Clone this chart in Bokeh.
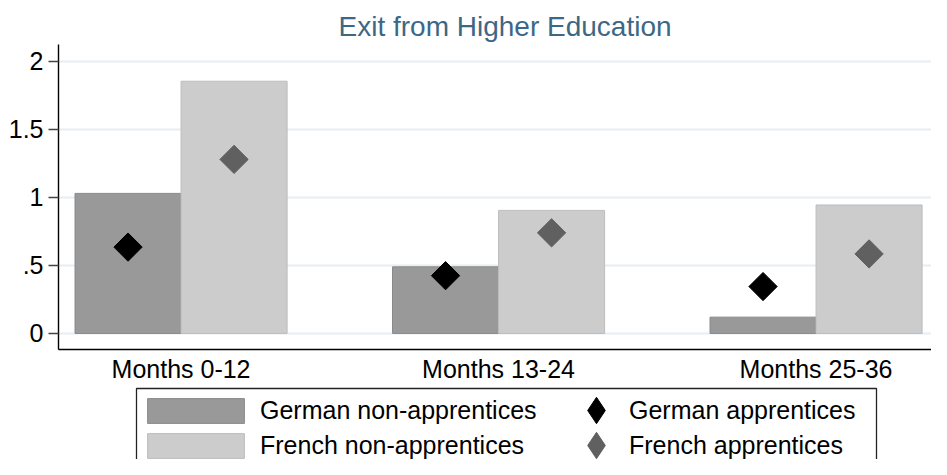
import numpy as np
from bokeh.plotting import figure
from bokeh.layouts import column
from bokeh.models import (Range1d, FixedTicker, Legend, LegendItem, BoxAnnotation,
                          ColumnDataSource)
from bokeh.embed import file_html
from bokeh.resources import INLINE

# ---- data ----
categories = ["Months 0-12", "Months 13-24", "Months 25-36"]
german_non = [1.03, 0.49, 0.12]
french_non = [1.855, 0.905, 0.945]
german_app = [0.635, 0.425, 0.345]
french_app = [1.28, 0.74, 0.585]
y_ticks = [0, 0.5, 1, 1.5, 2]
y_tick_labels = ["0", ".5", "1", "1.5", "2"]
title_text = "Exit from Higher Education"
series_names = ["German non-apprentices", "French non-apprentices",
                "German apprentices", "French apprentices"]

FONT = "Liberation Sans"
C_GN, C_GN_L = "#999999", "#8a8a8a"
C_FN, C_FN_L = "#cccccc", "#bdbdbd"
C_GA = "black"
C_FA = "#606060"
bw = 0.334
idx = np.arange(len(categories))

src = ColumnDataSource(dict(
    x=idx, xg=idx - bw / 2, xf=idx + bw / 2,
    gn=german_non, fn=french_non, ga=german_app, fa=french_app,
))

W = 931
H1 = 385
H2 = 74

p = figure(width=W, height=H1, output_backend="svg", toolbar_location=None,
           x_range=Range1d(-0.386, 2.3636), y_range=Range1d(-0.118, 2.125),
           min_border_left=58, min_border_right=0, min_border_top=44,
           min_border_bottom=36)
p.outline_line_color = None
p.border_fill_color = "white"

p.title.text = title_text
p.title.align = "left"
p.title.offset = 280
p.title.text_font = FONT
p.title.text_font_size = "28px"
p.title.text_font_style = "normal"
p.title.text_color = "#3e6785"
p.title.standoff = 6

p.xaxis.ticker = FixedTicker(ticks=list(idx))
p.xaxis.major_label_overrides = {int(i): c for i, c in zip(idx, categories)}
p.xaxis.major_tick_out = 0
p.xaxis.major_tick_in = 0
p.xaxis.minor_tick_line_color = None
p.xaxis.axis_line_color = "black"
p.xaxis.axis_line_width = 1.4
p.xaxis.major_label_text_font = FONT
p.xaxis.major_label_text_font_size = "25px"
p.xaxis.major_label_text_color = "black"
p.xaxis.major_label_standoff = 5

p.yaxis.ticker = FixedTicker(ticks=y_ticks)
p.yaxis.major_label_overrides = {t: l for t, l in zip(y_ticks, y_tick_labels)}
p.yaxis.major_tick_out = 10
p.yaxis.major_tick_in = 0
p.yaxis.major_tick_line_color = "#444444"
p.yaxis.major_tick_line_width = 1.3
p.yaxis.minor_tick_line_color = None
p.yaxis.axis_line_color = "black"
p.yaxis.axis_line_width = 1.4
p.yaxis.major_label_text_font = FONT
p.yaxis.major_label_text_font_size = "25px"
p.yaxis.major_label_text_color = "black"
p.yaxis.major_label_standoff = 5

p.xgrid.grid_line_color = None
p.ygrid.grid_line_color = "#e6eef1"
p.ygrid.grid_line_width = 2

bar_gn = dict(fill_color=C_GN, line_color=C_GN_L, line_width=1)
bar_fn = dict(fill_color=C_FN, line_color=C_FN_L, line_width=1)

p.vbar(x="xg", top="gn", width=bw, source=src, **bar_gn)
p.vbar(x="xf", top="fn", width=bw, source=src, **bar_fn)
p.scatter(x="xg", y="ga", source=src, marker="square", angle=np.pi / 4, size=20,
          fill_color=C_GA, line_color=C_GA)
p.scatter(x="xf", y="fa", source=src, marker="square", angle=np.pi / 4, size=20,
          fill_color=C_FA, line_color=C_FA)

# ---- legend panel (frame aligned with the chart's frame: x from 58) ----
lf = figure(width=W, height=H2, output_backend="svg", toolbar_location=None,
            x_range=Range1d(0, 1), y_range=Range1d(0, 1),
            x_axis_location=None, y_axis_location=None,
            min_border_left=0, min_border_right=0, min_border_top=0,
            min_border_bottom=0)
lf.outline_line_color = None
lf.grid.visible = False
lf.border_fill_color = "white"

k_gn = lf.vbar(x="xg", top="gn", width=bw, source=src, visible=False, **bar_gn)
k_fn = lf.vbar(x="xf", top="fn", width=bw, source=src, visible=False, **bar_fn)
k_ga = lf.scatter(x="xg", y="ga", source=src, visible=False, marker="diamond",
                  fill_color=C_GA, line_color=C_GA)
k_fa = lf.scatter(x="xf", y="fa", source=src, visible=False, marker="diamond",
                  fill_color=C_FA, line_color=C_FA)

box = BoxAnnotation(left=78, right=818, top=71, bottom=-10,
                    left_units="screen", right_units="screen",
                    top_units="screen", bottom_units="screen",
                    fill_color="white", fill_alpha=1,
                    line_color="#222222", line_width=1.3, line_alpha=1)
lf.add_layout(box)

common = dict(orientation="vertical", padding=0, margin=0,
              border_line_color=None, background_fill_alpha=0,
              label_text_font=FONT, label_text_font_size="25px",
              label_text_color="black")

legA = Legend(items=[LegendItem(label=series_names[0], renderers=[k_gn]),
                     LegendItem(label=series_names[1], renderers=[k_fn])],
              location=(77, -2), glyph_width=121, glyph_height=31,
              label_height=30, spacing=4, label_standoff=4, **common)
legB1 = Legend(items=[LegendItem(label=series_names[2], renderers=[k_ga])],
               location=(505, 16), glyph_width=66, glyph_height=66,
               label_height=30, label_standoff=0, **common)
legB2 = Legend(items=[LegendItem(label=series_names[3], renderers=[k_fa])],
               location=(505, -19), glyph_width=66, glyph_height=66,
               label_height=30, label_standoff=0, **common)
for lg in (legA, legB1, legB2):
    lf.add_layout(lg)

layout = column(p, lf, spacing=0)
open("out.html", "w").write(file_html(layout, INLINE))
